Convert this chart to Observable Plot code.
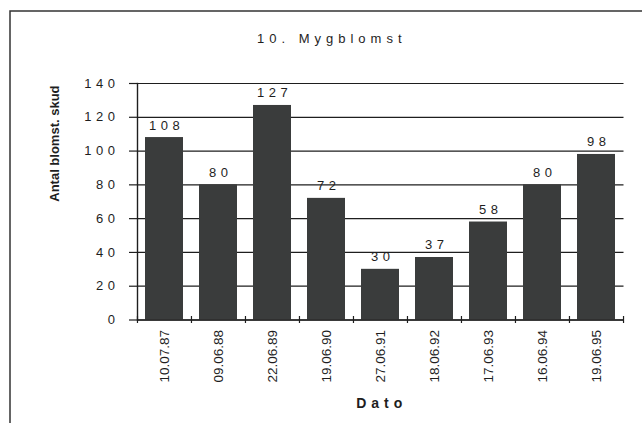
<!DOCTYPE html>
<html><head><meta charset="utf-8">
<script src="https://cdn.jsdelivr.net/npm/d3@7"></script>
<script src="https://cdn.jsdelivr.net/npm/@observablehq/plot@0.6"></script>
<style>
html,body{margin:0;padding:0;background:#fff;}
#chart svg{display:block;}
</style>
</head><body><div id="chart"></div>
<script>
const dates = ["10.07.87","09.06.88","22.06.89","19.06.90","27.06.91","18.06.92","17.06.93","16.06.94","19.06.95"];
const counts = [108,80,127,72,30,37,58,80,98];
const yTicks = [0,20,40,60,80,100,120,140];
const title = "10. Mygblomst";
const yLabel = "Antal blomst. skud";
const xLabel = "Dato";

const data = dates.map((d,i)=>({date:d, count:counts[i]}));
const W=642,H=423, mL=137, mR=18.5, mT=83, mB=103.5;
const pad=0.3;
const step=(W-mL-mR)/dates.length;
const ink="#1e1e1e";
const font="'Liberation Sans', Arial, Helvetica, sans-serif";

const chart = Plot.plot({
  width:W, height:H, marginLeft:mL, marginRight:mR, marginTop:mT, marginBottom:mB,
  style:{fontFamily:font, fontSize:"13px", color:ink, background:"#fff", overflow:"visible"},
  x:{domain:dates, paddingInner:pad, paddingOuter:pad/2, label:null},
  y:{domain:[0,140], label:null},
  marks:[
    Plot.gridY(yTicks,{stroke:ink, strokeOpacity:1, strokeWidth:1.2}),
    Plot.barY(data,{x:"date", y:"count", fill:"#3a3c3c"}),
    Plot.axisY(yTicks,{tickSize:8, tickPadding:10, fontSize:13, stroke:ink, strokeWidth:1.2, fill:ink}),
    Plot.axisX({tickSize:0, tickRotate:-90, tickPadding:10, fontSize:13.5, fill:ink}),
    Plot.axisX(dates,{tickSize:7, dx:-step/2, dy:-3.5, tickFormat:()=>"", stroke:ink, strokeWidth:1.2}),
    Plot.axisX([dates[dates.length-1]],{tickSize:7, dx:step/2, dy:-3.5, tickFormat:()=>"", stroke:ink, strokeWidth:1.2}),
    Plot.ruleY([0],{stroke:ink, strokeWidth:1.4}),
    Plot.frame({anchor:"left", stroke:ink, strokeWidth:1.4}),
    Plot.text(data,{x:"date", y:"count", text:d=>String(d.count), dy:-8, dx:2.2, lineAnchor:"bottom", fontSize:13, fill:ink}),
    Plot.text([title],{frameAnchor:"top", lineAnchor:"bottom", dy:-40.5, dx:-49, fontSize:13, fill:ink}),
    Plot.text([yLabel],{frameAnchor:"left", rotate:-90, dx:-83, fontSize:13, fontWeight:"bold", fill:ink}),
    Plot.text([xLabel],{frameAnchor:"bottom", lineAnchor:"bottom", dy:87.5, dx:1, fontSize:14, fontWeight:"bold", fill:ink})
  ]
});
document.getElementById("chart").appendChild(chart);

const svg = d3.select(chart);
const spaced = new Set(counts.map(String));
svg.selectAll("text").each(function(){
  const t = this.textContent;
  if (t === title || t === xLabel) d3.select(this).style("letter-spacing","5px");
  else if (spaced.has(t) && !dates.includes(t)) d3.select(this).style("letter-spacing","4.5px");
});
svg.selectAll('g[aria-label="y-axis tick label"] text').style("letter-spacing","4.5px");

// outer page border (decoration)
const border = svg.append("g").attr("stroke","#333").attr("stroke-width",1.5).attr("fill","none");
border.append("path").attr("d",`M10,${H} V11 H${W}`);
</script>
</body></html>
